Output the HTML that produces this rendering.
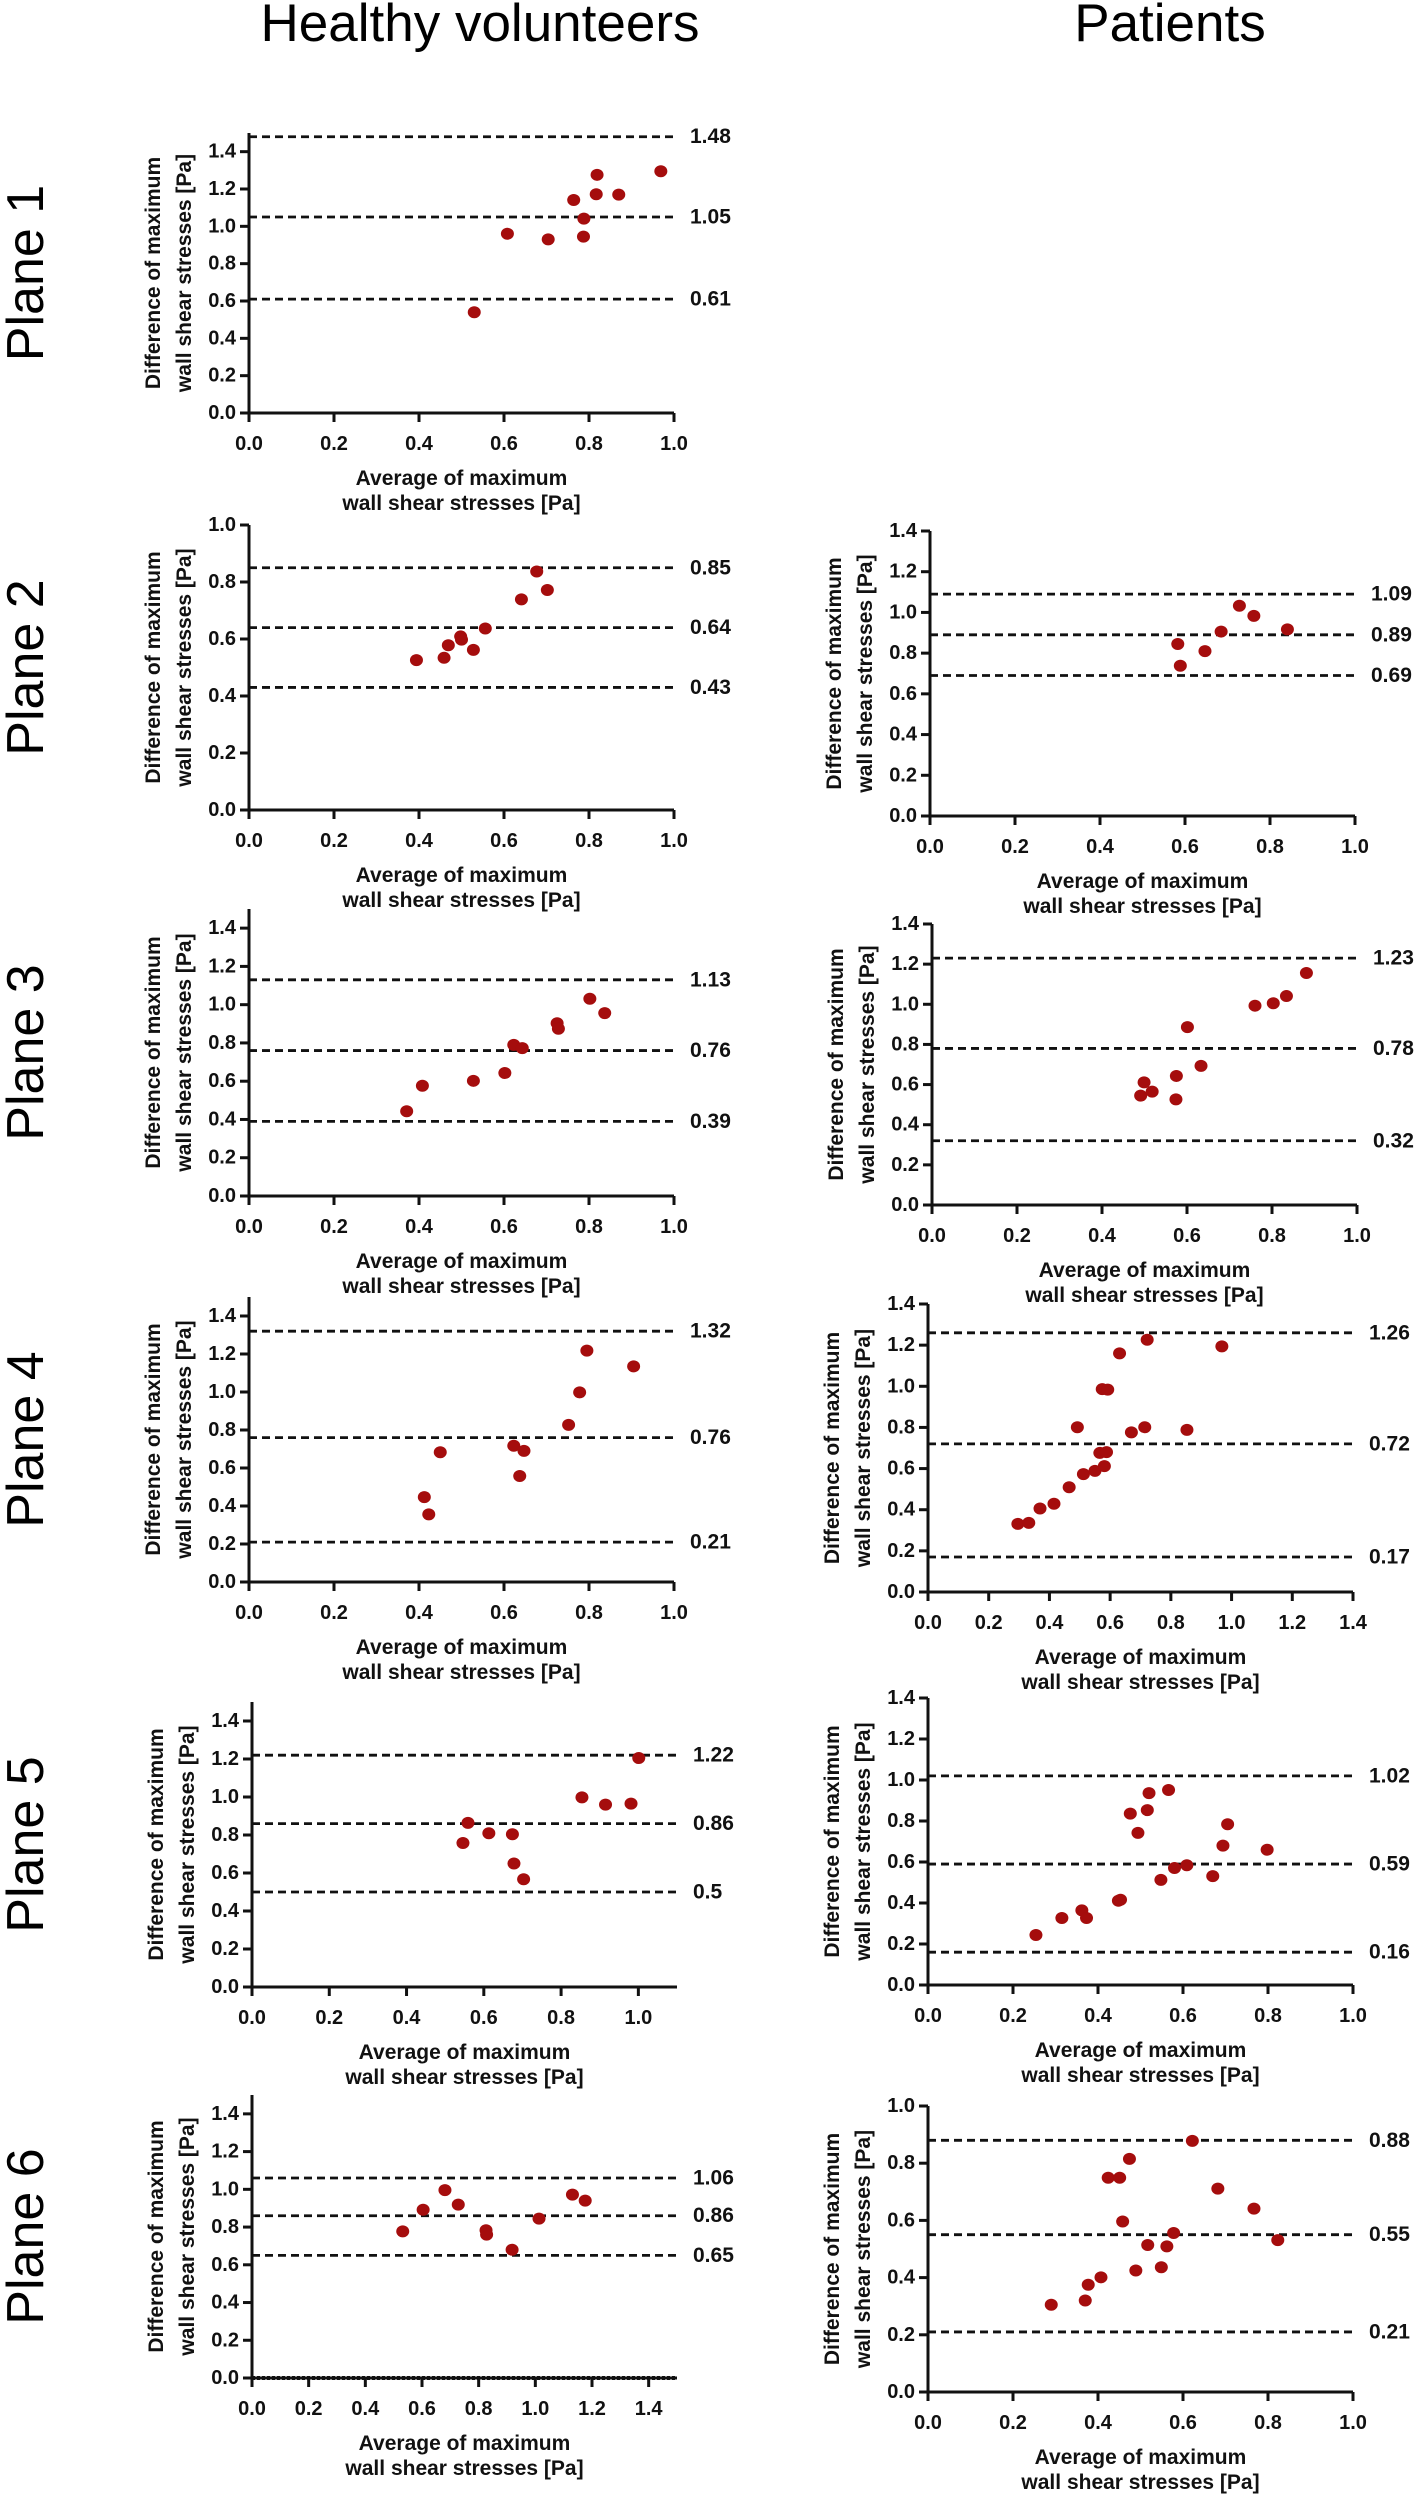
<!DOCTYPE html>
<html><head><meta charset="utf-8"><style>
html,body{margin:0;padding:0;background:#fff;}
svg{display:block;font-family:"Liberation Sans",Arial,sans-serif;}
.tk{font-weight:bold;font-size:20px;fill:#111;}
.ttl{font-weight:bold;font-size:21px;fill:#111;}
.lbl{font-weight:bold;font-size:21px;fill:#111;}
</style></head><body>
<svg id="fig" width="1414" height="2500" viewBox="0 0 1414 2500" xmlns="http://www.w3.org/2000/svg">
<text x="480" y="41" text-anchor="middle" font-size="53">Healthy volunteers</text>
<text x="1170" y="41" text-anchor="middle" font-size="53">Patients</text>
</svg>
<script>
// ---- Data ----
const h1X=[0.53,0.608,0.704,0.764,0.788,0.787,0.819,0.817,0.87,0.969];
const h1Y=[0.54,0.96,0.93,1.141,1.041,0.945,1.276,1.172,1.17,1.295];
const h1Lines=[1.48,1.05,0.61];
const h2X=[0.394,0.459,0.469,0.498,0.5,0.528,0.556,0.641,0.677,0.702];
const h2Y=[0.526,0.534,0.578,0.609,0.598,0.562,0.637,0.739,0.837,0.772];
const h2Lines=[0.85,0.64,0.43];
const h3X=[0.371,0.408,0.528,0.602,0.623,0.643,0.725,0.728,0.802,0.837];
const h3Y=[0.443,0.576,0.602,0.643,0.79,0.773,0.903,0.874,1.031,0.956];
const h3Lines=[1.13,0.76,0.39];
const h4X=[0.4125,0.423,0.45,0.623,0.647,0.637,0.752,0.778,0.795,0.905];
const h4Y=[0.447,0.356,0.683,0.717,0.69,0.558,0.827,0.998,1.218,1.135];
const h4Lines=[1.32,0.76,0.21];
const h5X=[0.546,0.559,0.613,0.674,0.678,0.703,0.854,0.915,0.981,1.001];
const h5Y=[0.758,0.864,0.809,0.804,0.65,0.567,0.998,0.96,0.965,1.205];
const h5Lines=[1.22,0.86,0.5];
const h6X=[0.532,0.604,0.681,0.728,0.826,0.828,0.918,1.013,1.131,1.176];
const h6Y=[0.777,0.892,0.996,0.919,0.783,0.76,0.68,0.845,0.972,0.94];
const h6Lines=[1.06,0.86,0.65];
const p2X=[0.583,0.589,0.647,0.685,0.728,0.762,0.841];
const p2Y=[0.845,0.738,0.81,0.906,1.033,0.983,0.917];
const p2Lines=[1.09,0.89,0.69];
const p3X=[0.491,0.499,0.518,0.574,0.575,0.633,0.601,0.76,0.803,0.834,0.881];
const p3Y=[0.545,0.611,0.565,0.526,0.643,0.693,0.886,0.993,1.005,1.041,1.156];
const p3Lines=[1.23,0.78,0.32];
const p4X=[0.296,0.332,0.369,0.415,0.465,0.512,0.55,0.581,0.566,0.588,0.492,0.67,0.714,0.853,0.574,0.592,0.631,0.722,0.968];
const p4Y=[0.331,0.336,0.406,0.429,0.509,0.573,0.589,0.612,0.676,0.68,0.801,0.776,0.801,0.788,0.986,0.984,1.16,1.226,1.194];
const p4Lines=[1.26,0.72,0.17];
const p5X=[0.254,0.315,0.362,0.373,0.448,0.453,0.476,0.494,0.516,0.52,0.566,0.548,0.58,0.609,0.67,0.694,0.705,0.798];
const p5Y=[0.244,0.327,0.364,0.327,0.411,0.416,0.836,0.742,0.853,0.936,0.951,0.513,0.571,0.584,0.531,0.68,0.784,0.66];
const p5Lines=[1.02,0.59,0.16];
const p6X=[0.29,0.37,0.377,0.407,0.424,0.451,0.474,0.458,0.489,0.517,0.549,0.562,0.578,0.622,0.682,0.767,0.823];
const p6Y=[0.305,0.32,0.375,0.401,0.749,0.749,0.815,0.596,0.425,0.514,0.436,0.509,0.556,0.878,0.711,0.641,0.531];
const p6Lines=[0.88,0.55,0.21];
const lineLabels={h1:["1.48","1.05","0.61"],h2:["0.85","0.64","0.43"],h3:["1.13","0.76","0.39"],h4:["1.32","0.76","0.21"],h5:["1.22","0.86","0.5"],h6:["1.06","0.86","0.65"],p2:["1.09","0.89","0.69"],p3:["1.23","0.78","0.32"],p4:["1.26","0.72","0.17"],p5:["1.02","0.59","0.16"],p6:["0.88","0.55","0.21"]};

// ---- Layout ----
const panels=[
 {id:"h1",plane:1,x0:249,yb:413,h:280,xmax:1.0,ymax:1.5,xt:1.0,yt:1.4,xs:h1X,ys:h1Y,lines:h1Lines},
 {id:"h2",plane:2,x0:249,yb:810,h:285,xmax:1.0,ymax:1.0,xt:1.0,yt:1.0,xs:h2X,ys:h2Y,lines:h2Lines},
 {id:"h3",plane:3,x0:249,yb:1196,h:287,xmax:1.0,ymax:1.5,xt:1.0,yt:1.4,xs:h3X,ys:h3Y,lines:h3Lines},
 {id:"h4",plane:4,x0:249,yb:1582,h:285,xmax:1.0,ymax:1.5,xt:1.0,yt:1.4,xs:h4X,ys:h4Y,lines:h4Lines},
 {id:"h5",plane:5,x0:252,yb:1987,h:285,xmax:1.1,ymax:1.5,xt:1.0,yt:1.4,xs:h5X,ys:h5Y,lines:h5Lines},
 {id:"h6",plane:6,x0:252,yb:2378,h:283,xmax:1.5,ymax:1.5,xt:1.4,yt:1.4,xs:h6X,ys:h6Y,lines:h6Lines,zero:true},
 {id:"p2",x0:930,yb:816,h:285,xmax:1.0,ymax:1.4,xt:1.0,yt:1.4,xs:p2X,ys:p2Y,lines:p2Lines},
 {id:"p3",x0:932,yb:1205,h:281,xmax:1.0,ymax:1.4,xt:1.0,yt:1.4,xs:p3X,ys:p3Y,lines:p3Lines},
 {id:"p4",x0:928,yb:1592,h:288,xmax:1.4,ymax:1.4,xt:1.4,yt:1.4,xs:p4X,ys:p4Y,lines:p4Lines},
 {id:"p5",x0:928,yb:1985,h:287,xmax:1.0,ymax:1.4,xt:1.0,yt:1.4,xs:p5X,ys:p5Y,lines:p5Lines},
 {id:"p6",x0:928,yb:2392,h:286,xmax:1.0,ymax:1.0,xt:1.0,yt:1.0,xs:p6X,ys:p6Y,lines:p6Lines}
];
const W=425;
const NS="http://www.w3.org/2000/svg";
const svg=document.getElementById("fig");
function mk(tag,attrs,parent){const e=document.createElementNS(NS,tag);for(const k in attrs)e.setAttribute(k,attrs[k]);(parent||svg).appendChild(e);return e;}

panels.forEach(p=>{
 const g=mk("g",{});
 
 
 const sx=v=>p.x0+v/p.xmax*W;
 const sy=v=>p.yb-v/p.ymax*p.h;
 const right=p.x0+W;
 p.lines.forEach((v,i)=>{
  const l=mk("line",{x1:p.x0,x2:right,y1:sy(v),y2:sy(v),stroke:"#111","stroke-width":2.8,"stroke-dasharray":"8 5"},g);
  
  
  const t=mk("text",{x:right+16,y:sy(v),"dominant-baseline":"central",class:"lbl"},g);
  t.textContent=lineLabels[p.id][i];
  
  
 });
 if(p.zero){
  const z=mk("line",{x1:p.x0,x2:right,y1:p.yb,y2:p.yb,stroke:"#111","stroke-width":4,"stroke-dasharray":"3 2"},g);
  
  
 }
 const ya=mk("line",{x1:p.x0,x2:p.x0,y1:p.yb+1.5,y2:p.yb-p.h,stroke:"#111","stroke-width":3},g);
 
 
 const xa=mk("line",{x1:p.x0-1.5,x2:right,y1:p.yb,y2:p.yb,stroke:"#111","stroke-width":3},g);
 
 
 for(let k=0;k<=Math.round(p.yt/0.2);k++){
  const v=k*0.2;
  mk("line",{x1:p.x0-9,x2:p.x0,y1:sy(v),y2:sy(v),stroke:"#111","stroke-width":3},g);
  const t=mk("text",{x:p.x0-13,y:sy(v),"text-anchor":"end","dominant-baseline":"central",class:"tk"},g);
  t.textContent=v.toFixed(1);
  
  
 }
 for(let k=0;k<=Math.round(p.xt/0.2);k++){
  const v=k*0.2;
  mk("line",{x1:sx(v),x2:sx(v),y1:p.yb,y2:p.yb+9,stroke:"#111","stroke-width":3},g);
  const t=mk("text",{x:sx(v),y:p.yb+37,"text-anchor":"middle",class:"tk"},g);
  t.textContent=v.toFixed(1);
  
  
 }
 const cx=p.x0+W/2;
 const xt1=mk("text",{x:cx,y:p.yb+72,"text-anchor":"middle",class:"ttl"},g);
 xt1.textContent="Average of maximum";
 
 
 const xt2=mk("text",{x:cx,y:p.yb+97,"text-anchor":"middle",class:"ttl"},g);
 xt2.textContent="wall shear stresses [Pa]";
 
 
 const cy=p.yb-p.h/2;
 const yt1=mk("text",{x:0,y:0,"text-anchor":"middle",class:"ttl",transform:`translate(${p.x0-89},${cy}) rotate(-90)`},g);
 yt1.textContent="Difference of maximum";
 
 
 const yt2=mk("text",{x:0,y:0,"text-anchor":"middle",class:"ttl",transform:`translate(${p.x0-58},${cy}) rotate(-90)`},g);
 yt2.textContent="wall shear stresses [Pa]";
 
 
 p.xs.forEach((xv,i)=>{
  const c=mk("ellipse",{cx:sx(xv),cy:sy(p.ys[i]),rx:6.5,ry:6,fill:"#a50d0d"},g);
  
  
 });
 if(p.plane){
  const pl=mk("text",{x:0,y:0,"text-anchor":"middle","font-size":52,transform:`translate(43,${cy}) rotate(-90)`},svg);
  pl.textContent="Plane "+p.plane;
  
  
 }
});
</script>
</body></html>
